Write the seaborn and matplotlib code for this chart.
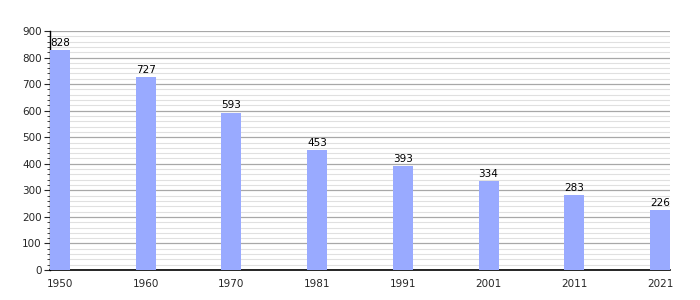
import matplotlib
matplotlib.use("Agg")
import matplotlib.pyplot as plt
import seaborn as sns
import pandas as pd
from matplotlib.ticker import MultipleLocator

years = ["1950", "1960", "1970", "1981", "1991", "2001", "2011", "2021"]
population = [828, 727, 593, 453, 393, 334, 283, 226]

sns.set_style("white")
plt.rcParams['font.family'] = ['DejaVu Sans']

df = pd.DataFrame({"year": years, "pop": population})

fig = plt.figure(figsize=(7, 3), dpi=100)
ax = fig.add_axes([50/700, 30/300, 620/700, 239/300])

w = 0.234
sns.barplot(data=df, x="year", y="pop", color="#99aaff", width=w, ax=ax,
            saturation=1, edgecolor="none", zorder=3)

for i, v in enumerate(population):
    ax.text(i, v + 8, str(v), ha="center", va="bottom", fontsize=7.5,
            color="black", zorder=6)

ax.set_xlim(-w/2, len(years) - 1 + w/2)
ax.set_ylim(0, 900)
ax.yaxis.set_major_locator(MultipleLocator(100))
ax.yaxis.set_minor_locator(MultipleLocator(20))
ax.grid(which="major", axis="y", color="#a8a8a8", linewidth=0.9, zorder=0)
ax.grid(which="minor", axis="y", color="#e0e0e0", linewidth=0.8, zorder=0)
ax.set_axisbelow(True)
ax.set_xlabel("")
ax.set_ylabel("")
for s in ["top", "right"]:
    ax.spines[s].set_visible(False)
ax.spines["left"].set_color("black")
ax.spines["bottom"].set_color("black")
ax.spines["left"].set_linewidth(1)
ax.spines["bottom"].set_linewidth(1.2)
ax.tick_params(axis="y", which="major", left=True, length=4, width=0.8, labelsize=7.5, pad=2)
ax.tick_params(axis="y", which="minor", left=True, length=2, width=0.6)
ax.tick_params(axis="x", bottom=False, labelsize=7.5, pad=3)

fig.savefig("out.png", dpi=100)
